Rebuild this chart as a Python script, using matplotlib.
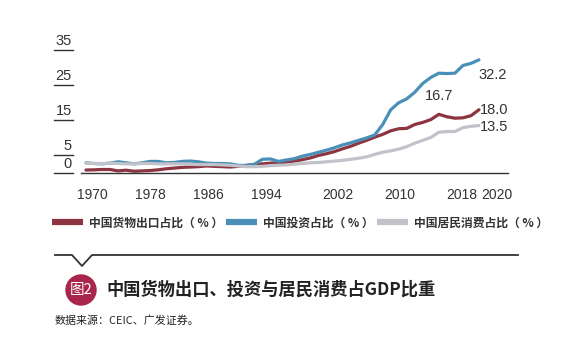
import matplotlib
matplotlib.use("Agg")
import matplotlib.pyplot as plt
import matplotlib.transforms as mtransforms
from matplotlib.lines import Line2D
from matplotlib.patches import Circle

plt.rcParams["font.family"] = ["Liberation Sans", "Noto Sans CJK SC", "DejaVu Sans"]

W, H = 562, 348

years = list(range(1970, 2020))
export_share = [
    0.85, 0.9, 1.0, 1.0, 0.6, 0.8, 0.5, 0.6, 0.7, 0.9,
    1.2, 1.4, 1.6, 1.7, 1.8, 2.0, 1.9, 1.8, 1.7, 1.9,
    2.2, 2.4, 2.6, 2.8, 2.9, 3.1, 3.4, 3.8, 4.3, 5.0,
    5.5, 6.1, 6.9, 7.6, 8.5, 9.3, 10.2, 11.0, 12.0, 12.6,
    12.7, 13.8, 14.4, 15.2, 16.7, 16.0, 15.6, 15.7, 16.3, 18.0,
]
invest_share = [
    2.9, 2.7, 2.6, 2.8, 3.2, 2.9, 2.6, 2.9, 3.3, 3.3,
    2.9, 3.0, 3.3, 3.4, 3.2, 2.8, 2.7, 2.7, 2.6, 2.2,
    2.1, 2.5, 3.9, 4.0, 3.3, 3.7, 4.1, 4.8, 5.3, 5.9,
    6.5, 7.2, 8.0, 8.6, 9.3, 10.0, 10.8, 13.8, 18.0, 20.0,
    21.1, 23.0, 25.5, 27.2, 28.4, 28.3, 28.4, 30.6, 31.2, 32.2,
]
consume_share = [
    2.8, 2.7, 2.7, 2.8, 2.7, 2.6, 2.6, 2.7, 2.7, 2.6,
    2.6, 2.6, 2.6, 2.5, 2.4, 2.4, 2.4, 2.3, 2.2, 2.0,
    1.8, 1.8, 1.9, 2.1, 2.2, 2.3, 2.5, 2.7, 2.9, 3.0,
    3.2, 3.4, 3.6, 3.9, 4.2, 4.6, 5.3, 5.9, 6.3, 6.8,
    7.5, 8.5, 9.3, 10.1, 11.6, 11.8, 11.8, 12.9, 13.3, 13.5,
]
series_names = ["中国货物出口占比（ % ）", "中国投资占比（ % ）", "中国居民消费占比（ % ）"]
colors = ["#8c3541", "#4a8fb8", "#c2c2ca"]

x_ticks = [1970, 1978, 1986, 1994, 2002, 2010, 2018, 2020]
x_tick_nudge = [6, 0, -6, -12, -5, -7, -9, 10]  # px, to follow the original label spacing
y_ticks = [0, 5, 15, 25, 35]

TXT = "#333333"
CJK = ["Noto Sans CJK SC", "DejaVu Sans"]


def fx(px):
    return px / W


def fy(py):
    return 1 - py / H


fig = plt.figure(figsize=(W / 100, H / 100), dpi=100)
ax = fig.add_axes([fx(81), fy(173), (508 - 81) / W, (173 - 40) / H])

for vals, c in zip([export_share, invest_share, consume_share], colors):
    ax.plot(years, vals, color=c, lw=2.3, solid_capstyle="round")

ax.set_xlim(1969.38, 1969.38 + 427 / 8.02)
ax.set_ylim(0, 133 / 3.514)

for s in ["top", "right", "left"]:
    ax.spines[s].set_visible(False)
ax.spines["bottom"].set_color(TXT)
ax.spines["bottom"].set_linewidth(1.0)

ax.set_yticks([])
ax.set_xticks(x_ticks)
ax.set_xticklabels([str(y) for y in x_ticks], fontsize=10, color=TXT)
ax.tick_params(axis="x", length=0, pad=11)
for lab, dx in zip(ax.get_xticklabels(), x_tick_nudge):
    lab.set_transform(lab.get_transform() + mtransforms.ScaledTranslation(dx / 100, 0, fig.dpi_scale_trans))

# y ticks drawn as short rules left of the plot, label sitting on top
ytr = mtransforms.blended_transform_factory(fig.transFigure, ax.transData)
for v in y_ticks:
    ax.add_line(Line2D([fx(54), fx(73)], [v, v], transform=ytr, color=TXT, lw=1.0, clip_on=False))
    ax.text(fx(72), v, str(v), transform=ytr + mtransforms.ScaledTranslation(0, 2 / 100, fig.dpi_scale_trans),
            ha="right", va="bottom", fontsize=10.5, color=TXT)

# end labels
ax.annotate(f"{invest_share[-1]:.1f}", (years[-1], invest_share[-1]), xytext=(0, -6),
            textcoords="offset points", ha="left", va="top", fontsize=10.5, color=TXT)
ax.annotate(f"{export_share[-1]:.1f}", (years[-1], export_share[-1]), xytext=(1, 0),
            textcoords="offset points", ha="left", va="center", fontsize=10.5, color=TXT)
ax.annotate(f"{consume_share[-1]:.1f}", (years[-1], consume_share[-1]), xytext=(1, -1),
            textcoords="offset points", ha="left", va="center", fontsize=10.5, color=TXT)
i_peak = export_share.index(max(export_share[:-1]))
ax.annotate(f"{export_share[i_peak]:.1f}", (years[i_peak], export_share[i_peak]), xytext=(0, 8),
            textcoords="offset points", ha="center", va="bottom", fontsize=10.5, color=TXT)

# legend
handles = [Line2D([0], [0], color=c, lw=4.5, solid_capstyle="butt") for c in colors]
leg = fig.legend(handles, series_names, loc="center left", bbox_to_anchor=(fx(52), fy(223)),
                 ncol=3, frameon=False, handlelength=2.6, handletextpad=0.55, columnspacing=0.25,
                 borderpad=0, borderaxespad=0,
                 prop={"family": CJK, "weight": "bold", "size": 8.5})
for t in leg.get_texts():
    t.set_color(TXT)

# separator with notch
sx = [55, 72, 82, 92, 518]
sy = [255, 255, 266, 255, 255]
fig.add_artist(Line2D([fx(v) for v in sx], [fy(v) for v in sy], transform=fig.transFigure,
                      color="#333333", lw=1.3))

# badge + title
fig.add_artist(Circle((81, H - 290), 15, transform=None, color="#a8264b"))
fig.text(fx(81), fy(290), "图2", ha="center", va="center", color="white", fontsize=10.5, family=CJK)
fig.text(fx(106), fy(290), "中国货物出口、投资与居民消费占GDP比重", ha="left", va="center",
         fontsize=12.4, weight="bold", color="#222222", family=CJK)
fig.text(fx(55), fy(321), "数据来源：CEIC、广发证券。", ha="left", va="center",
         fontsize=7.9, color="#222222", family=CJK)

fig.savefig("out.png", dpi=100, facecolor="white")
